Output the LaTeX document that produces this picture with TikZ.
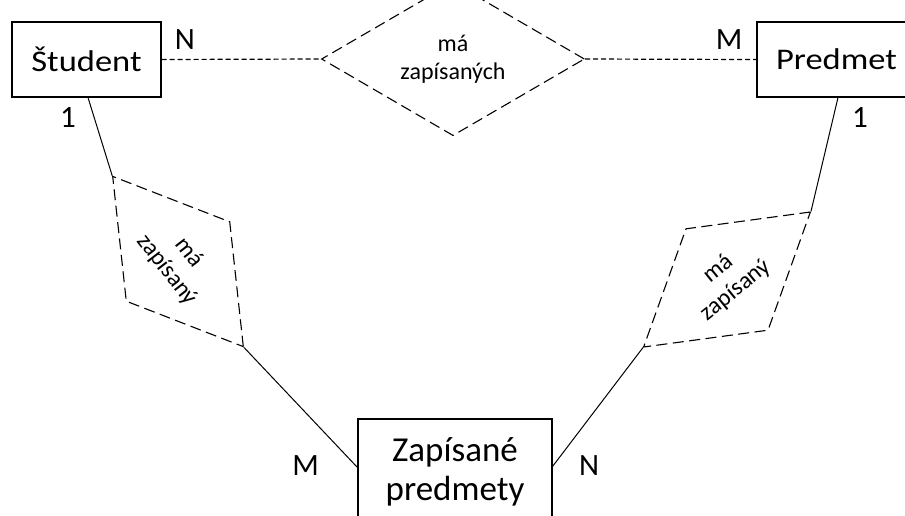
\documentclass[tikz,border=0pt]{standalone}
\usepackage{fontspec}
\setmainfont{Carlito}
\newfontfamily\widefont{Carlito}[FakeStretch=1.15]
\usetikzlibrary{shapes.geometric}
\begin{document}
\begin{tikzpicture}[x=1pt,y=-1pt,
  entity/.style={draw, line width=1.1pt, inner sep=0pt},
  rel/.style={diamond, draw, line width=1.1pt, dash pattern=on 11pt off 5.5pt, inner sep=0pt, align=center, font=\fontsize{24}{28}\selectfont},
  link/.style={line width=1pt},
  dlink/.style={line width=1.2pt, dash pattern=on 5pt off 3pt},
  card/.style={font=\fontsize{31}{36}\selectfont, inner sep=0pt}]
\useasboundingbox (0,0) rectangle (905,515);
\clip (0,0) rectangle (905,515);
\node[entity, minimum width=149pt, minimum height=75pt, font=\widefont\fontsize{30}{36}\selectfont] (st) at (86.5,59.5) {Študent};
\node[entity, minimum width=159pt, minimum height=75pt, font=\widefont\fontsize{30}{36}\selectfont] (pr) at (836.5,59.5) {Predmet};
\node[entity, minimum width=194pt, minimum height=106pt, align=center, font=\fontsize{35}{39}\selectfont] (zp) at (455,472) {Zapísané\\predmety};
\node[rel, minimum width=263pt, minimum height=92pt] (d1) at (453,59) {má\\zapísaných};
\node[rel, rotate=-52.5, minimum width=215pt, minimum height=93pt] (d2) at (178,261.5) {má\\zapísaný};
\node[rel, rotate=39, minimum width=215pt, minimum height=96pt] (d3) at (727,279.5) {má\\zapísaný};
\draw[dlink] (st.east) -- (d1.west);
\draw[dlink] (d1.east) -- (pr.west);
\draw[link] ([xshift=1.5pt]st.south) -- (d2.west);
\draw[link] (d2.east) -- ([yshift=-49pt]zp.north west);
\draw[link] ([xshift=1.5pt]pr.south) -- (d3.east);
\draw[link] (d3.west) -- ([yshift=-48pt]zp.north east);
\node[card] (c1) at (185,40) {N};
\node[card] (c2) at (729,40) {M};
\node[card] (c3) at (68,118) {1};
\node[card] (c4) at (860,118) {1};
\node[card] (c5) at (305.5,466) {M};
\node[card] (c6) at (589,466) {N};
\end{tikzpicture}
\end{document}
